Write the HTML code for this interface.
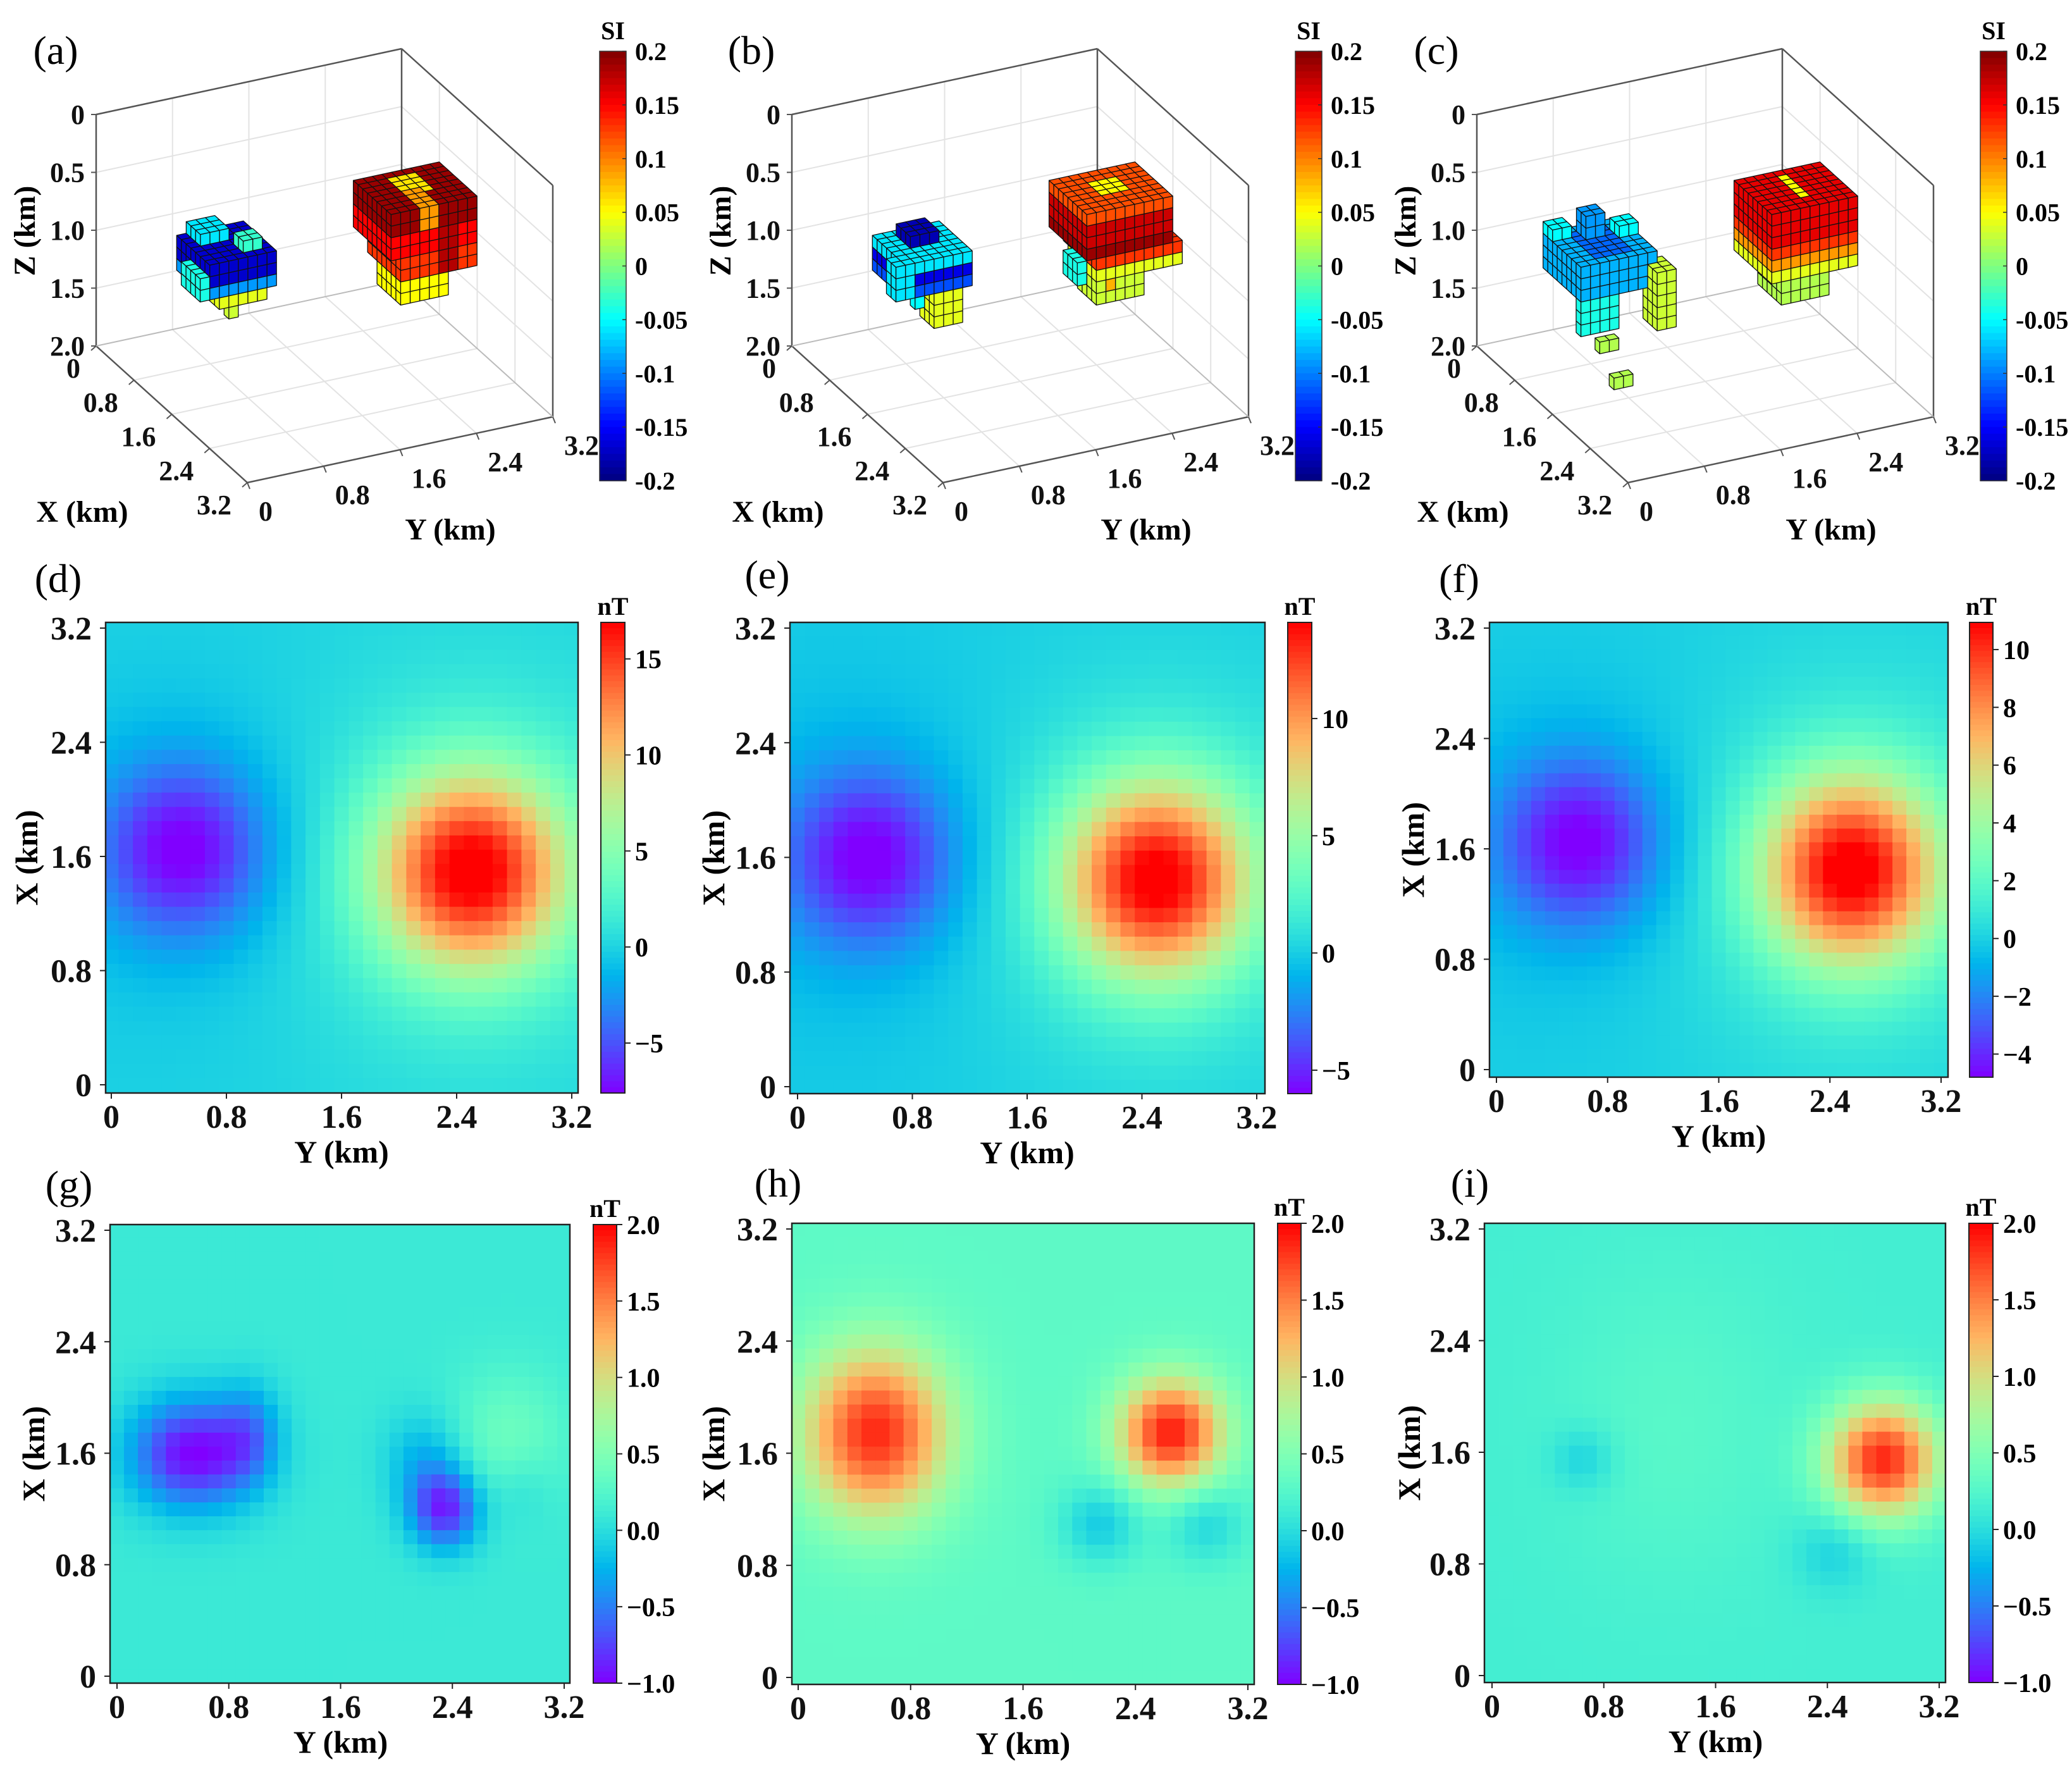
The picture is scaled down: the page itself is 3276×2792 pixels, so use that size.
<!DOCTYPE html>
<html><head><meta charset="utf-8"><title>Magnetic inversion figure</title>
<style>html,body{margin:0;padding:0;background:#fff}svg{display:block}text{font-family:"Liberation Serif",serif}</style>
</head><body>
<svg id="fig" xmlns="http://www.w3.org/2000/svg" width="3276" height="2792" viewBox="0 0 3276 2792">
<rect x="0" y="0" width="3276" height="2792" fill="#fff"/>
</svg>
<script>
// ---------- 3D voxel data: blocks [x0,x1,y0,y1,z0,z1,value] ----------
const blocksA = [
 [1.3,2.0,0.2,0.9,0.6,0.8,-0.17],[1.3,2.0,0.2,0.9,0.8,0.9,-0.09],[1.4,2.0,0.3,0.8,0.9,1.0,0.04],
 [1.9,2.0,0.4,0.5,1.0,1.1,0.03],[1.3,1.6,0.3,0.6,0.5,0.6,-0.06],[1.6,2.0,0.1,0.2,0.7,0.9,-0.04],
 [1.7,1.9,0.6,0.8,0.5,0.6,-0.03],
 [1.2,2.0,2.1,3.0,0.5,0.7,0.19],[1.2,2.0,2.1,3.0,0.7,0.9,0.15],[1.3,2.0,2.2,3.0,0.9,1.1,0.13],
 [1.5,2.0,2.2,2.7,1.1,1.3,0.05],[1.3,1.7,2.4,2.7,0.5,0.6,0.06],[1.6,2.0,2.4,2.6,0.5,0.7,0.09],
 [1.8,2.0,2.6,2.8,0.7,1.1,0.18]
];
const blocksB = [
 [1.3,2.0,0.2,0.9,0.6,0.7,-0.06],[1.3,2.0,0.2,0.9,0.7,0.8,-0.16],[1.3,2.0,0.2,0.9,0.8,0.9,-0.12],
 [1.4,1.7,0.4,0.7,0.5,0.6,-0.18],[1.8,2.0,0.1,0.3,0.6,0.9,-0.06],[1.7,2.0,0.5,0.8,0.9,1.2,0.04],
 [1.9,2.0,0.3,0.4,0.9,1.0,-0.05],
 [1.2,2.0,2.1,3.0,0.5,0.6,0.12],[1.2,2.0,2.1,3.0,0.6,0.8,0.17],[1.2,2.0,2.1,3.0,0.8,0.9,0.19],
 [1.3,2.0,2.2,3.1,0.9,1.0,0.13],[1.4,2.0,2.2,3.1,1.0,1.1,0.04],[1.6,2.0,2.2,2.7,1.1,1.3,0.03],
 [1.8,2.0,2.3,2.4,1.1,1.2,0.08],[1.4,1.7,2.4,2.7,0.5,0.6,0.05],[1.7,2.0,2.0,2.1,0.9,1.1,-0.04]
];
const blocksC = [
 [1.2,2.0,0.1,0.9,0.6,0.9,-0.08],[1.3,1.9,0.3,0.7,0.6,0.9,-0.11],[1.3,1.5,0.4,0.6,0.4,0.6,-0.09],
 [1.2,1.4,0.1,0.3,0.5,0.6,-0.05],[1.4,1.6,0.7,0.9,0.5,0.6,-0.05],[1.9,2.0,0.1,0.5,0.9,1.2,-0.04],
 [1.7,1.9,0.4,0.5,0.9,1.1,0.02],[1.9,2.2,0.8,1.0,0.7,1.2,0.03],[2.3,2.4,0.1,0.3,1.1,1.2,0.02],
 [2.6,2.7,0.1,0.3,1.3,1.4,0.02],
 [1.2,2.0,2.1,3.0,0.5,0.8,0.16],[1.2,2.0,2.1,3.0,0.8,0.9,0.13],[1.2,2.0,2.1,3.0,0.9,1.0,0.09],
 [1.2,2.0,2.1,3.0,1.0,1.1,0.04],[1.5,2.0,2.2,2.7,1.1,1.3,0.02],[1.3,1.8,2.5,2.6,0.5,0.6,0.05]
];
const siTicks = [0.2,0.15,0.1,0.05,0,-0.05,-0.1,-0.15,-0.2];
const xyTicks3d = [0,0.8,1.6,2.4,3.2];
const zTicks3d = [0,0.5,1.0,1.5,2.0];

// ---------- heatmap source data: [centerY, centerX, amplitude, sigmaY, sigmaX] ----------
const dSources = [[0.5,1.65,-7.0,0.40,0.42],[2.5,1.5,15.5,0.45,0.47],[2.5,1.5,2.6,0.95,0.95],[0.5,1.65,-1.2,0.9,0.9]];
const eSources = [[0.5,1.6,-5.6,0.40,0.42],[2.5,1.45,12.8,0.45,0.47],[2.5,1.45,2.1,0.95,0.95],[0.5,1.6,-1.0,0.9,0.9]];
const fSources = [[0.6,1.65,-4.4,0.40,0.42],[2.55,1.45,10.0,0.44,0.47],[2.55,1.45,1.7,0.95,0.95],[0.6,1.65,-0.8,0.9,0.9]];
const gSources = [[0.55,1.6,-1.1,0.32,0.28],[0.95,1.75,-0.4,0.15,0.25],[2.35,1.2,-0.95,0.18,0.2],[2.2,1.55,-0.35,0.2,0.25],[2.8,1.7,0.3,0.3,0.35],[2.9,1.35,-0.15,0.15,0.2]];
const hSources = [[0.55,1.75,1.55,0.36,0.42],[2.65,1.75,1.6,0.26,0.27],[2.15,1.1,-0.42,0.2,0.2],[2.9,1.1,-0.35,0.2,0.2]];
const iSources = [[2.8,1.55,1.7,0.28,0.29],[0.65,1.55,-0.25,0.16,0.16],[2.45,0.9,-0.25,0.2,0.2],[1.3,1.8,0.12,0.6,0.8]];
const gridCoords = [0,0.1,0.2,0.3,0.4,0.5,0.6,0.7,0.8,0.9,1.0,1.1,1.2,1.3,1.4,1.5,1.6,1.7,1.8,1.9,2.0,2.1,2.2,2.3,2.4,2.5,2.6,2.7,2.8,2.9,3.0,3.1,3.2];
const axisTicks = [0,0.8,1.6,2.4,3.2];
const dCbarTicks = [-5,0,5,10,15];
const eCbarTicks = [-5,0,5,10];
const fCbarTicks = [-4,-2,0,2,4,6,8,10];
const row3CbarTicks = [-1.0,-0.5,0.0,0.5,1.0,1.5,2.0];

const NS = 'http://www.w3.org/2000/svg';
const svg = document.getElementById('fig');
function mk(tag, attrs, parent){ const e=document.createElementNS(NS,tag); for(const k in attrs) e.setAttribute(k,attrs[k]); (parent||svg).appendChild(e); return e; }
function cl(v){return Math.max(0,Math.min(1,v));}
function jet(t){t=cl(t);return 'rgb('+Math.round(255*cl(1.5-Math.abs(4*t-3)))+','+Math.round(255*cl(1.5-Math.abs(4*t-2)))+','+Math.round(255*cl(1.5-Math.abs(4*t-1)))+')';}
function rainbow(t){t=cl(t);return 'rgb('+Math.round(255*cl(Math.abs(2*t-0.5)))+','+Math.round(255*cl(Math.sin(Math.PI*t)))+','+Math.round(255*cl(Math.cos(Math.PI*t/2)))+')';}
function txt(s,x,y,size,opts,parent){ const t=mk('text',Object.assign({x:x,y:y,'font-size':size},opts||{}),parent); t.textContent=s; return t; }
function fmt(v){ return (v<0?'\u2212':'')+Math.abs(v); }
function fmtSI(v){ if(v===0) return '0'; return (v<0?'-':'')+String(Math.abs(v)); }

// ---------- 3D panel ----------
function panel3d(blocks, dx, label, name){
  const g = mk('g',{});
  
  
  const O=[152+dx,181], VX=[239/3.2,216/3.2], VY=[483/3.2,-104/3.2], VZ=183;
  const P=(x,y,z)=>[O[0]+VX[0]*x+VY[0]*y, O[1]+VX[1]*x+VY[1]*y+VZ*z];
  const poly=(pts,attrs,parent)=>mk('polygon',Object.assign({points:pts.map(p=>p[0].toFixed(1)+','+p[1].toFixed(1)).join(' ')},attrs),parent);
  const line=(a,b,st,w,parent)=>mk('line',{x1:a[0],y1:a[1],x2:b[0],y2:b[1],stroke:st,'stroke-width':w},parent);
  const grid = mk('g',{},g);
  
  
  const gc='#e3e3e3';
  [0.8,1.6,2.4].forEach(v=>{ line(P(0,v,0),P(0,v,2),gc,2,grid); line(P(v,3.2,0),P(v,3.2,2),gc,2,grid);
    line(P(v,0,2),P(v,3.2,2),gc,2,grid); line(P(0,v,2),P(3.2,v,2),gc,2,grid); });
  [0.5,1.0,1.5].forEach(z=>{ line(P(0,0,z),P(0,3.2,z),gc,2,grid); line(P(0,3.2,z),P(3.2,3.2,z),gc,2,grid); });
  const ax = mk('g',{},g);
  
  
  const ec='#555';
  [[P(0,0,0),P(0,3.2,0)],[P(0,3.2,0),P(3.2,3.2,0)],[P(0,3.2,0),P(0,3.2,2)],[P(3.2,3.2,0),P(3.2,3.2,2)],
   [P(0,0,0),P(0,0,2)],[P(0,0,2),P(3.2,0,2)],[P(3.2,0,2),P(3.2,3.2,2)],[P(0,3.2,2),P(3.2,3.2,2)],[P(0,0,2),P(0,3.2,2)]]
   .forEach((e,i)=>line(e[0],e[1], i>=7?'#bbb':ec, i>=7?2:2.5, ax));
  const vox = new Map();
  blocks.forEach(b=>{
    for(let ix=Math.round(b[0]*10); ix<Math.round(b[1]*10); ix++)
    for(let iy=Math.round(b[2]*10); iy<Math.round(b[3]*10); iy++)
    for(let iz=Math.round(b[4]*10); iz<Math.round(b[5]*10); iz++) vox.set(ix+','+iy+','+iz,[ix,iy,iz,b[6]]);
  });
  const list=[...vox.values()].sort((a,b)=>(a[0]-a[1]-a[2])-(b[0]-b[1]-b[2]));
  const vg = mk('g',{stroke:'#111','stroke-width':1.3,'stroke-linejoin':'round'},g);
  
  
  list.forEach(v=>{
    const [ix,iy,iz,val]=v, x0=ix/10,x1=(ix+1)/10,y0=iy/10,y1=(iy+1)/10,z0=iz/10,z1=(iz+1)/10;
    const col=jet((val+0.2)/0.4);
    if(!vox.has(ix+','+iy+','+(iz-1))) poly([P(x0,y0,z0),P(x1,y0,z0),P(x1,y1,z0),P(x0,y1,z0)],{fill:col},vg);
    if(!vox.has((ix+1)+','+iy+','+iz)) poly([P(x1,y0,z0),P(x1,y1,z0),P(x1,y1,z1),P(x1,y0,z1)],{fill:col},vg);
    if(!vox.has(ix+','+(iy-1)+','+iz)) poly([P(x0,y0,z0),P(x1,y0,z0),P(x1,y0,z1),P(x0,y0,z1)],{fill:col},vg);
  });
  const tk = mk('g',{'font-weight':'bold',fill:'#111'},g);
  
  
  zTicks3d.forEach(z=>{const p=P(0,0,z); txt(z===0?'0':z.toFixed(1),p[0]-18,p[1]+15,44,{'text-anchor':'end'},tk); line(p,[p[0]-8,p[1]],ec,2,tk);});
  xyTicks3d.forEach(v=>{const p=P(v,0,2); txt(v===0?'0':v.toFixed(1),p[0]-25,p[1]+50,44,{'text-anchor':'end'},tk); line(p,[p[0]-8,p[1]+7],ec,2,tk);});
  xyTicks3d.forEach(v=>{const p=P(3.2,v,2); txt(v===0?'0':v.toFixed(1),p[0]+18,p[1]+60,44,{'text-anchor':'start'},tk); line(p,[p[0]+4,p[1]+10],ec,2,tk);});
  const zt=txt('Z (km)',0,0,48,{'font-weight':'bold','text-anchor':'middle',transform:'translate('+(55+dx)+',365) rotate(-90)'},g);
  
  
  const xt=txt('X (km)',130+dx,825,48,{'font-weight':'bold','text-anchor':'middle'},g);
  
  
  const yt=txt('Y (km)',712+dx,853,48,{'font-weight':'bold','text-anchor':'middle'},g);
  
  
  const pl=txt(label,88+dx,101,64,{'text-anchor':'middle'},g);
  
  
  const cb=mk('g',{},g);
  
  
  const cx0=948+dx, cw=42, ct=81, cbot=760, N=64;
  for(let i=0;i<N;i++){ mk('rect',{x:cx0,y:ct+(cbot-ct)*i/N,width:cw,height:(cbot-ct)/N+0.8,fill:jet(1-(i+0.5)/N)},cb); }
  mk('rect',{x:cx0,y:ct,width:cw,height:cbot-ct,fill:'none',stroke:'#333','stroke-width':1.5},cb);
  siTicks.forEach(v=>{const y=ct+(0.2-v)/0.4*(cbot-ct); txt(fmtSI(v),cx0+cw+14,y+14,40,{'font-weight':'bold'},cb); mk('line',{x1:cx0+cw-6,y1:y,x2:cx0+cw,y2:y,stroke:'#333','stroke-width':1.5},cb);});
  const si=txt('SI',cx0+cw/2,62,40,{'font-weight':'bold','text-anchor':'middle'},cb);
  
  
}
panel3d(blocksA,0,'(a)','panel-a-3d-model');
panel3d(blocksB,1100,'(b)','panel-b-3d-model');
panel3d(blocksC,2183,'(c)','panel-c-3d-model');

// ---------- heatmaps ----------
function heat(c){
  const g=mk('g',{});
  
  
  const sx=v=>c.x0+(c.x32-c.x0)*v/3.2, sy=v=>c.y0+(c.y32-c.y0)*v/3.2;
  const clipId='clip'+c.name;
  const cp=mk('clipPath',{id:clipId},g); mk('rect',{x:c.L,y:c.T,width:c.R-c.L,height:c.B-c.T},cp);
  const cells=mk('g',{'clip-path':'url(#'+clipId+')'},g);
  
  
  const field=(Y,X)=>c.src.reduce((s,p)=>s+p[2]*Math.exp(-((Y-p[0])**2/(2*p[3]*p[3])+(X-p[1])**2/(2*p[4]*p[4]))),c.base);
  gridCoords.forEach(Y=>gridCoords.forEach(X=>{
    const v=field(Y,X), xa=sx(Y-0.05), xb=sx(Y+0.05), ya=sy(X+0.05), yb=sy(X-0.05);
    mk('rect',{x:xa.toFixed(1),y:ya.toFixed(1),width:(xb-xa+0.6).toFixed(1),height:(yb-ya+0.6).toFixed(1),fill:rainbow((v-c.vmin)/(c.vmax-c.vmin))},cells);
  }));
  const fr=mk('rect',{x:c.L,y:c.T,width:c.R-c.L,height:c.B-c.T,fill:'none',stroke:'#222','stroke-width':2.5},g);
  
  
  const tk=mk('g',{'font-weight':'bold',fill:'#111'},g);
  
  
  axisTicks.forEach(v=>{
    const x=sx(v); mk('line',{x1:x,y1:c.B,x2:x,y2:c.B+9,stroke:'#222','stroke-width':2},tk);
    txt(v===0?'0':v.toFixed(1),x,c.B+55,52,{'text-anchor':'middle'},tk);
    const y=sy(v); mk('line',{x1:c.L-9,y1:y,x2:c.L,y2:y,stroke:'#222','stroke-width':2},tk);
    txt(v===0?'0':v.toFixed(1),c.L-22,y+18,52,{'text-anchor':'end'},tk);
  });
  const yt=txt('Y (km)',(sx(0)+sx(3.2))/2,c.B+110,50,{'font-weight':'bold','text-anchor':'middle'},g);
  
  
  const xt=txt('X (km)',0,0,50,{'font-weight':'bold','text-anchor':'middle',transform:'translate('+(c.xtX+17)+','+((c.T+c.B)/2)+') rotate(-90)'},g);
  
  
  const pl=txt(c.label,c.lx,c.ly,64,{'text-anchor':'middle'},g);
  
  
  const cb=mk('g',{},g);
  
  
  const N=80, h=c.B-c.T;
  for(let i=0;i<N;i++) mk('rect',{x:c.cx,y:c.T+h*i/N,width:c.cw,height:h/N+0.8,fill:rainbow(1-(i+0.5)/N)},cb);
  mk('rect',{x:c.cx,y:c.T,width:c.cw,height:h,fill:'none',stroke:'#222','stroke-width':2},cb);
  c.ticks.forEach(v=>{const y=c.T+(c.vmax-v)/(c.vmax-c.vmin)*h;
    mk('line',{x1:c.cx+c.cw,y1:y,x2:c.cx+c.cw+9,y2:y,stroke:'#222','stroke-width':2},cb);
    txt(c.dec?((v<0?'\u2212':'')+Math.abs(v).toFixed(1)):fmt(v),c.cx+c.cw+16,y+15,42,{'font-weight':'bold'},cb);});
  const u=txt('nT',c.cx+c.cw/2,c.T-12,40,{'font-weight':'bold','text-anchor':'middle'},cb);
  
  
}
heat({name:'panel-d-heatmap',src:dSources,base:0,L:167,R:914,T:984,B:1728,x0:176,x32:904,y0:1715,y32:993,cx:950,cw:38,vmin:-7.6,vmax:16.9,ticks:dCbarTicks,label:'(d)',lx:92,ly:936,xtX:42});
heat({name:'panel-e-heatmap',src:eSources,base:0,L:1249,R:2000,T:984,B:1729,x0:1261,x32:1987,y0:1718,y32:993,cx:2036,cw:38,vmin:-6.0,vmax:14.1,ticks:eCbarTicks,label:'(e)',lx:1213,ly:930,xtX:1128});
heat({name:'panel-f-heatmap',src:fSources,base:0,L:2355,R:3080,T:984,B:1703,x0:2366,x32:3069,y0:1691,y32:993,cx:3114,cw:37,vmin:-4.8,vmax:10.94,ticks:fCbarTicks,label:'(f)',lx:2307,ly:936,xtX:2234});
heat({name:'panel-g-heatmap',src:gSources,base:0.1,L:174,R:901,T:1936,B:2661,x0:185,x32:892,y0:2650,y32:1945,cx:938,cw:37,vmin:-1,vmax:2,ticks:row3CbarTicks,dec:true,label:'(g)',lx:109,ly:1895,xtX:53});
heat({name:'panel-h-heatmap',src:hSources,base:0.3,L:1252,R:1983,T:1934,B:2663,x0:1262,x32:1973,y0:2652,y32:1943,cx:2020,cw:37,vmin:-1,vmax:2,ticks:row3CbarTicks,dec:true,label:'(h)',lx:1230,ly:1892,xtX:1128});
heat({name:'panel-i-heatmap',src:iSources,base:0.15,L:2347,R:3076,T:1934,B:2660,x0:2359,x32:3066,y0:2649,y32:1943,cx:3113,cw:38,vmin:-1,vmax:2,ticks:row3CbarTicks,dec:true,label:'(i)',lx:2324,ly:1892,xtX:2228});
</script>
</body></html>
